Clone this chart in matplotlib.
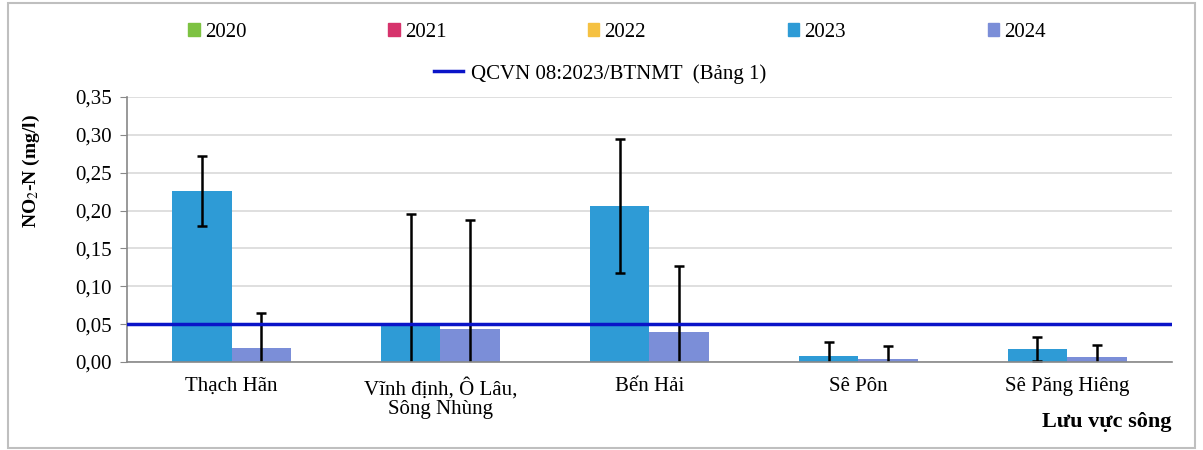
import matplotlib.pyplot as plt
import matplotlib.patches as mpatches
from matplotlib.lines import Line2D
import numpy as np

plt.rcParams['font.family'] = ['Liberation Serif', 'DejaVu Serif']
plt.rcParams['mathtext.fontset'] = 'stix'

rivers = ["Thạch Hãn", "Vĩnh định, Ô Lâu,\nSông Nhùng", "Bến Hải", "Sê Pôn", "Sê Păng Hiêng"]
years = ["2020", "2021", "2022", "2023", "2024"]
year_colors = ["#7DC242", "#D6336C", "#F5C142", "#2E9BD6", "#7B8ED8"]

val_2023 = [0.226, 0.052, 0.206, 0.008, 0.017]
err_2023 = [0.046, 0.144, 0.088, 0.018, 0.016]
val_2024 = [0.018, 0.044, 0.039, 0.004, 0.006]
err_2024 = [0.047, 0.143, 0.088, 0.017, 0.016]
qcvn = 0.05

fig = plt.figure(figsize=(12.03, 4.5), dpi=100)
ax = fig.add_axes([0.1056, 0.1956, 0.8684, 0.5888])

x = np.arange(len(rivers))
w = 0.285
ekw = dict(ecolor="black", elinewidth=1.8, capsize=3.5, capthick=1.8)
ax.bar(x - w / 2, val_2023, w, color=year_colors[3], yerr=err_2023, error_kw=ekw, zorder=2)
ax.bar(x + w / 2, val_2024, w, color=year_colors[4], yerr=err_2024, error_kw=ekw, zorder=2)
ax.axhline(qcvn, color="#0A14C8", lw=2.5, zorder=3)

ax.set_xlim(-0.5, len(rivers) - 0.5)
ax.set_ylim(0, 0.35)
ax.set_yticks(np.arange(0, 0.351, 0.05))
ax.set_yticklabels([f"{v:.2f}".replace(".", ",") for v in np.arange(0, 0.351, 0.05)], fontsize=15)
ax.set_xticks(x)
ax.set_xticklabels(rivers, fontsize=15, linespacing=1.05)
ax.tick_params(axis="x", length=0, pad=11)
ax.tick_params(axis="y", length=5, color="#888888", pad=6)
ax.yaxis.grid(True, color="#D9D9D9", lw=1.2, zorder=0)
ax.set_axisbelow(True)
for s in ["top", "right"]:
    ax.spines[s].set_visible(False)
for s in ["left", "bottom"]:
    ax.spines[s].set_color("#888888")
    ax.spines[s].set_linewidth(1.2)

ax.set_ylabel("NO$_{2}$-N (mg/l)", fontsize=14, fontweight="bold")
ax.yaxis.set_label_coords(-0.081, 0.72)
fig.text(0.974, 0.062, "Lưu vực sông", ha="right", va="center", fontsize=16, fontweight="bold")

handles = [mpatches.Patch(color=c, label=y) for y, c in zip(years, year_colors)]
fig.legend(handles=handles, loc="center", bbox_to_anchor=(0.513, 0.928), ncol=5, frameon=False,
           fontsize=15, handlelength=0.55, handleheight=0.55, handletextpad=0.25, columnspacing=6.8)
line_h = [Line2D([0], [0], color="#0A14C8", lw=2.5, label="QCVN 08:2023/BTNMT  (Bảng 1)")]
fig.legend(handles=line_h, loc="center", bbox_to_anchor=(0.499, 0.836), frameon=False,
           fontsize=15, handlelength=1.4, handletextpad=0.4)

fig.patches.append(mpatches.Rectangle((0.007, 0.004), 0.986, 0.99, transform=fig.transFigure,
                                      fill=False, edgecolor="#BFBFBF", lw=1.5))

fig.savefig("out.png", dpi=100)
